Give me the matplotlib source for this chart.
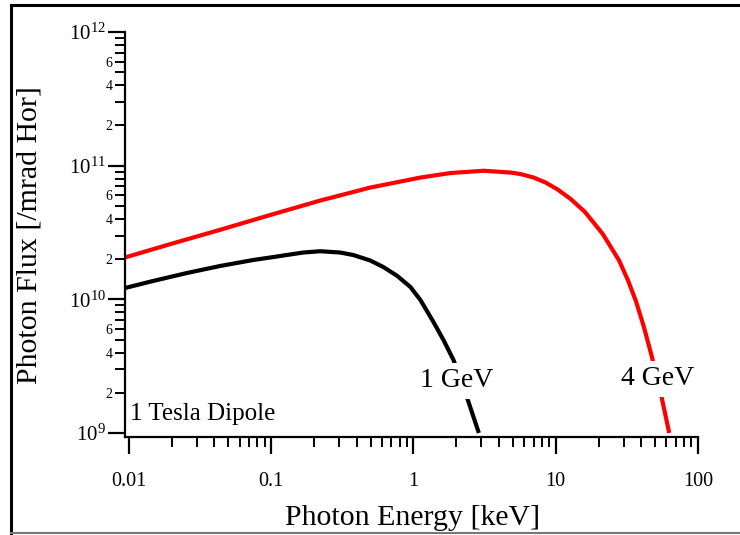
import numpy as np
import matplotlib
matplotlib.use("Agg")
import matplotlib.pyplot as plt
from matplotlib.ticker import FixedLocator, FuncFormatter, NullFormatter
from matplotlib.lines import Line2D

plt.rcParams['font.family'] = ['Liberation Serif', 'DejaVu Serif']
plt.rcParams['mathtext.fontset'] = 'custom'
plt.rcParams['mathtext.rm'] = 'Liberation Serif'
plt.rcParams['mathtext.it'] = 'Liberation Serif:italic'

# Data (photon energy in keV, flux per mrad horizontal)
energy_1gev = [0.0094, 0.01476, 0.02562, 0.04373, 0.07467, 0.09839, 0.16801, 0.22134, 0.30614,
               0.37786, 0.49787, 0.61464, 0.77159, 0.95254, 1.1201, 1.3829, 1.6265, 1.9126,
               2.3235, 2.8832]
flux_1gev = [1.215e10, 1.3706e10, 1.5734e10, 1.7749e10, 1.9678e10, 2.0545e10, 2.2389e10, 2.2896e10,
             2.2389e10, 2.1449e10, 1.9509e10, 1.7446e10, 1.4941e10, 1.2359e10, 9.880e9, 6.765e9,
             4.962e9, 3.516e9, 1.991e9, 1.0e9]

energy_4gev = [0.009372, 0.019438, 0.04373, 0.09839, 0.22134, 0.49787, 1.1201, 1.8224, 3.1115,
               4.8215, 5.6686, 6.9997, 8.5041, 10.330, 12.755, 16.005, 21.429, 27.780, 32.142,
               36.600, 41.671, 47.446, 54.882, 62.802]
flux_4gev = [2.0545e10, 2.5832e10, 3.3100e10, 4.2710e10, 5.4826e10, 6.8582e10, 8.147e10, 8.806e10,
             9.160e10, 8.882e10, 8.655e10, 8.147e10, 7.475e10, 6.627e10, 5.626e10, 4.521e10,
             3.079e10, 1.9678e10, 1.3946e10, 9.711e9, 6.207e9, 3.702e9, 1.957e9, 1.0e9]

series_labels = ["1 GeV", "4 GeV"]
x_tick_values = [0.01, 0.1, 1, 10, 100]
x_tick_labels = ["0.01", "0.1", "1", "10", "100"]
y_major_values = [1e9, 1e10, 1e11, 1e12]
annotation = "1 Tesla Dipole"

fig = plt.figure(figsize=(7.4, 5.35), dpi=100)
ax = fig.add_axes([125/740, 1 - 437/535, 573/740, 405/535])

ax.plot(energy_1gev, flux_1gev, color='black', lw=3.0, solid_capstyle='butt',
        solid_joinstyle='round', zorder=2)
ax.plot(energy_4gev, flux_4gev, color='#ff0000', lw=3.0, solid_capstyle='butt',
        solid_joinstyle='round', zorder=2)

ax.set_xscale('log')
ax.set_yscale('log')
ax.set_xlim(0.0094, 100)
ax.set_ylim(0.933e9, 1e12)

for s in ['top', 'right']:
    ax.spines[s].set_visible(False)
for s in ['left', 'bottom']:
    ax.spines[s].set_linewidth(1.6)

# x ticks
ax.xaxis.set_major_locator(FixedLocator(x_tick_values))
ax.set_xticklabels(x_tick_labels)
xminor = [m * 10.0**k for k in range(-2, 2) for m in range(2, 10)]
ax.xaxis.set_minor_locator(FixedLocator(xminor))
ax.xaxis.set_minor_formatter(NullFormatter())
ax.tick_params(axis='x', which='major', length=12, width=1.6, pad=13, labelsize=14.5, direction='out')
ax.tick_params(axis='x', which='minor', length=7, width=1.4, direction='out')

# y ticks
ax.yaxis.set_major_locator(FixedLocator(y_major_values))
ax.yaxis.set_major_formatter(FuncFormatter(lambda v, p: r'$\mathregular{10^{%d}}$' % round(np.log10(v))))
yminor = [m * 10.0**k for k in range(9, 12) for m in range(2, 10)]
ax.yaxis.set_minor_locator(FixedLocator(yminor))

def minor_fmt(v, p):
    m = int(round(v / 10.0**np.floor(np.log10(v) + 1e-9)))
    return str(m) if m in (2, 4, 6) else ''

ax.yaxis.set_minor_formatter(FuncFormatter(minor_fmt))
ax.tick_params(axis='y', which='major', length=12, width=1.6, pad=2, labelsize=15, direction='out')
ax.tick_params(axis='y', which='minor', length=7, width=1.4, pad=2, labelsize=10, direction='out')

ax.set_xlabel("Photon Energy [keV]", fontsize=21.5, va='center')
ax.xaxis.set_label_coords(0.501, -0.2)
ax.set_ylabel("Photon Flux [/mrad Hor]", fontsize=21.5, va='center')
ax.yaxis.set_label_coords(-0.166, 0.499)

box = dict(facecolor='white', edgecolor='none', pad=4)
ax.text(2.01, 2.45e9, series_labels[0], fontsize=20, ha='center', va='center', bbox=box, zorder=3)
ax.text(52.2, 2.54e9, series_labels[1], fontsize=20, ha='center', va='center', bbox=box, zorder=3)
ax.text(0.009, 0.042, annotation, fontsize=18, ha='left', va='baseline', transform=ax.transAxes)

# outer frame
W, H = 740.0, 535.0
fig.add_artist(Line2D([11/W, 1.0], [1 - 5/H, 1 - 5/H], color='black', lw=2.2, transform=fig.transFigure))
fig.add_artist(Line2D([11/W, 11/W], [1 - 5/H, 1 - 533/H], color='black', lw=2.2, transform=fig.transFigure))
fig.add_artist(Line2D([11/W, 1.0], [1 - 533/H, 1 - 533/H], color='#777777', lw=1.5, transform=fig.transFigure))

fig.savefig("out.png", dpi=100)
